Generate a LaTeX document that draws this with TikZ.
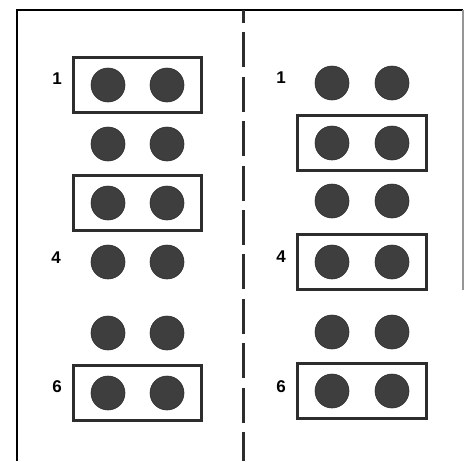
\documentclass[tikz,border=0pt]{standalone}
\usepackage{fontspec}
\setmainfont{Liberation Sans}
\usetikzlibrary{fit}
\definecolor{mydot}{RGB}{62,62,62}
\definecolor{myline}{RGB}{45,45,45}
\definecolor{myfaint}{RGB}{150,150,150}
\tikzset{
  dot/.style={circle, fill=mydot, draw=myline, line width=0.6pt,
    minimum size=34pt, inner sep=0pt},
  pairbox/.style={rectangle, draw=myline, line width=3pt,
    inner xsep=17pt, inner ysep=10pt},
  rowlabel/.style={font=\bfseries\fontsize{17}{17}\selectfont, inner sep=0pt},
  frame/.style={line width=2pt, color=black},
  divider/.style={line width=3pt, color=myline,
    dash pattern=on 35pt off 9.4pt, dash phase=22pt}
}

\begin{document}
\begin{tikzpicture}[x=1pt, y=-1pt]
  \useasboundingbox (0,0) rectangle (465,461);

  % Frame and middle divider
  \draw[frame] (17,461) -- (17,10) -- (463,10);
  \draw[line width=1.5pt, color=myfaint] (463,10) -- (463,290);
  \draw[divider] (243,10) -- (243,461);

  % Left column
  \node[dot] (l1a) at (108,85) {};  \node[dot] (l1b) at (167,85) {};
  \node[dot] (l2a) at (108,144) {}; \node[dot] (l2b) at (167,144) {};
  \node[dot] (l3a) at (108,203) {}; \node[dot] (l3b) at (167,203) {};
  \node[dot] (l4a) at (108,262) {}; \node[dot] (l4b) at (167,262) {};
  \node[dot] (l5a) at (108,333) {}; \node[dot] (l5b) at (167,333) {};
  \node[dot] (l6a) at (108,393) {}; \node[dot] (l6b) at (167,393) {};

  \node[pairbox, fit=(l1a)(l1b)] (lbox1) {};
  \node[pairbox, fit=(l3a)(l3b)] (lbox3) {};
  \node[pairbox, fit=(l6a)(l6b)] (lbox6) {};

  \node[rowlabel] (llab1) at (57,79) {1};
  \node[rowlabel] (llab4) at (56,258) {4};
  \node[rowlabel] (llab6) at (57,387) {6};

  % Right column
  \node[dot] (r1a) at (332,83) {};  \node[dot] (r1b) at (392,83) {};
  \node[dot] (r2a) at (332,143) {}; \node[dot] (r2b) at (392,143) {};
  \node[dot] (r3a) at (332,201) {}; \node[dot] (r3b) at (392,201) {};
  \node[dot] (r4a) at (332,262) {}; \node[dot] (r4b) at (392,262) {};
  \node[dot] (r5a) at (332,332) {}; \node[dot] (r5b) at (392,332) {};
  \node[dot] (r6a) at (332,391) {}; \node[dot] (r6b) at (392,391) {};

  \node[pairbox, fit=(r2a)(r2b)] (rbox2) {};
  \node[pairbox, fit=(r4a)(r4b)] (rbox4) {};
  \node[pairbox, fit=(r6a)(r6b)] (rbox6) {};

  \node[rowlabel] (rlab1) at (281,78) {1};
  \node[rowlabel] (rlab4) at (281,257) {4};
  \node[rowlabel] (rlab6) at (281,387) {6};
\end{tikzpicture}
\end{document}
